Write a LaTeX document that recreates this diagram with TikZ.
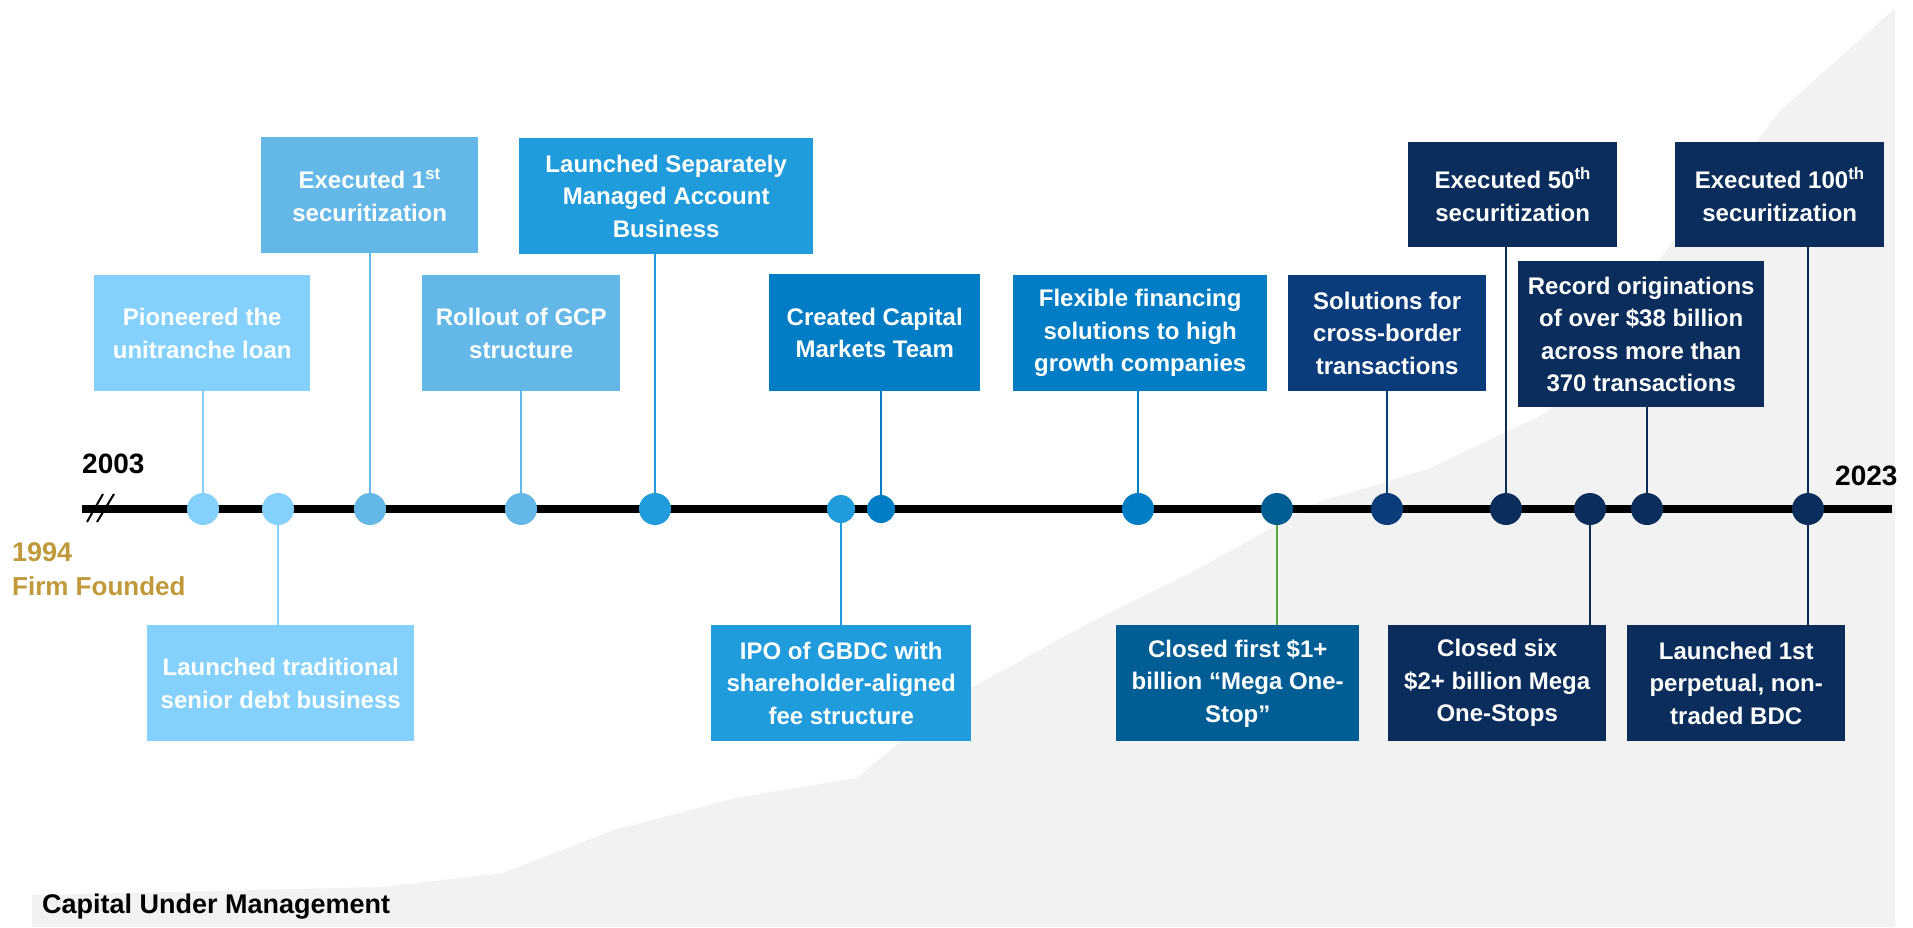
\documentclass[tikz,border=0pt]{standalone}
\usepackage{fontspec}
\setmainfont{Liberation Sans}
\definecolor{tlA}{HTML}{84D1FD}
\definecolor{tlB}{HTML}{63B8E8}
\definecolor{tlC}{HTML}{209BDB}
\definecolor{tlD}{HTML}{007DC4}
\definecolor{tlE}{HTML}{005E95}
\definecolor{tlF}{HTML}{0A3B7A}
\definecolor{tlG}{HTML}{0A2D5C}
\definecolor{stemgreen}{HTML}{5AA640}
\definecolor{founded}{HTML}{C09A3A}
\definecolor{cum}{HTML}{F2F2F2}

\begin{document}
\begin{tikzpicture}[x=1pt,y=-1pt,
	event/.style={fill=#1, text=white, inner sep=0pt, anchor=north west, align=center,
		font=\bfseries\fontsize{24}{32.5}\selectfont},
	dot/.style={circle, fill=#1, inner sep=0pt, minimum size=32pt},
	smalldot/.style={circle, fill=#1, inner sep=0pt, minimum size=28pt},
	stem/.style={draw=#1, line width=2pt},
	year/.style={inner sep=0pt, anchor=base west, font=\bfseries\fontsize{28}{30}\selectfont}]
		\useasboundingbox (0,0) rectangle (1913,927);
		\fill[cum] (32,927) -- (32,895) -- (382,887) -- (503,873) -- (617,829) -- (740,797)
			-- (857,778) -- (900,742) -- (971,688) -- (1085,625) -- (1194,571) -- (1319,502)
			-- (1428,469) -- (1548,412) -- (1673,241) -- (1756,142) -- (1780,111) -- (1893,10)
			-- (1895,10) -- (1895,927) -- cycle;
		\coordinate (tstart) at (82,509);
		\coordinate (tend) at (1892,509);
		\draw[line width=8pt] (tstart) -- (tend);
		\draw[line width=2pt] (87,522) -- (103,494);
		\draw[line width=2pt] (97,522) -- (114,494);
		\node[year] (y2003) at (82,473) {2003};
		\node[year] (y2023) at (1835,485) {2023};
		\node[year, text=founded, font=\bfseries\fontsize{27}{30}\selectfont] (y1994) at (12,561) {1994};
		\node[year, text=founded, font=\bfseries\fontsize{26}{30}\selectfont] (found) at (12,595) {Firm Founded};
		\node[year, font=\bfseries\fontsize{27}{30}\selectfont] (cumlabel) at (42,913) {Capital Under Management};

		\node[event=tlA, minimum width=216pt, minimum height=116pt] (pion) at (94,275) {Pioneered the\\unitranche loan};
		\node[event=tlA, minimum width=267pt, minimum height=116pt] (trad) at (147,625) {Launched traditional\\senior debt business};
		\node[event=tlB, minimum width=217pt, minimum height=116pt] (sec1) at (261,137) {Executed 1\textsuperscript{st}\\securitization};
		\node[event=tlB, minimum width=198pt, minimum height=116pt] (gcp) at (422,275) {Rollout of GCP\\structure};
		\node[event=tlC, minimum width=294pt, minimum height=116pt] (sma) at (519,138) {Launched Separately\\Managed Account\\Business};
		\node[event=tlC, minimum width=260pt, minimum height=116pt] (ipo) at (711,625) {IPO of GBDC with\\shareholder-aligned\\fee structure};
		\node[event=tlD, minimum width=211pt, minimum height=117pt] (ccm) at (769,274) {Created Capital\\Markets Team};
		\node[event=tlD, minimum width=254pt, minimum height=116pt] (flex) at (1013,275) {Flexible financing\\solutions to high\\growth companies};
		\node[event=tlE, minimum width=243pt, minimum height=116pt] (mega) at (1116,625) {Closed first \$1+\\billion “Mega One-\\Stop”};
		\node[event=tlF, minimum width=198pt, minimum height=116pt] (xb) at (1288,275) {Solutions for\\cross-border\\transactions};
		\node[event=tlG, minimum width=209pt, minimum height=105pt] (sec50) at (1408,142) {Executed 50\textsuperscript{th}\\securitization};
		\node[event=tlG, minimum width=218pt, minimum height=116pt] (six) at (1388,625) {Closed six\\\$2+ billion Mega\\One-Stops};
		\node[event=tlG, minimum width=246pt, minimum height=146pt] (rec) at (1518,261) {Record originations\\of over \$38 billion\\across more than\\370 transactions};
		\node[event=tlG, minimum width=209pt, minimum height=105pt] (sec100) at (1675,142) {Executed 100\textsuperscript{th}\\securitization};
		\node[event=tlG, minimum width=218pt, minimum height=116pt] (bdc) at (1627,625) {Launched 1st\\perpetual, non-\\traded BDC};

		\node[dot=tlA] (d1) at (203,509) {};
		\node[dot=tlA] (d2) at (278,509) {};
		\node[dot=tlB] (d3) at (370,509) {};
		\node[dot=tlB] (d4) at (521,509) {};
		\node[dot=tlC] (d5) at (655,509) {};
		\node[smalldot=tlC] (d6) at (841,509) {};
		\node[smalldot=tlD] (d7) at (881,509) {};
		\node[dot=tlD] (d8) at (1138,509) {};
		\node[dot=tlE] (d9) at (1277,509) {};
		\node[dot=tlF] (d10) at (1387,509) {};
		\node[dot=tlG] (d11) at (1506,509) {};
		\node[dot=tlG] (d12) at (1590,509) {};
		\node[dot=tlG] (d13) at (1647,509) {};
		\node[dot=tlG] (d14) at (1808,509) {};

		\draw[stem=tlA] (d1) -- (d1 |- pion.south);
		\draw[stem=tlA] (d2) -- (d2 |- trad.north);
		\draw[stem=tlB] (d3) -- (d3 |- sec1.south);
		\draw[stem=tlB] (d4) -- (d4 |- gcp.south);
		\draw[stem=tlC] (d5) -- (d5 |- sma.south);
		\draw[stem=tlC] (d6) -- (d6 |- ipo.north);
		\draw[stem=tlD] (d7) -- (d7 |- ccm.south);
		\draw[stem=tlD] (d8) -- (d8 |- flex.south);
		\draw[stem=stemgreen] (d9) -- (d9 |- mega.north);
		\draw[stem=tlF] (d10) -- (d10 |- xb.south);
		\draw[stem=tlG] (d11) -- (d11 |- sec50.south);
		\draw[stem=tlG] (d12) -- (d12 |- six.north);
		\draw[stem=tlG] (d13) -- (d13 |- rec.south);
		\draw[stem=tlG] (d14) -- (d14 |- sec100.south);
		\draw[stem=tlG] (d14) -- (d14 |- bdc.north);
		\end{tikzpicture}
\end{document}
